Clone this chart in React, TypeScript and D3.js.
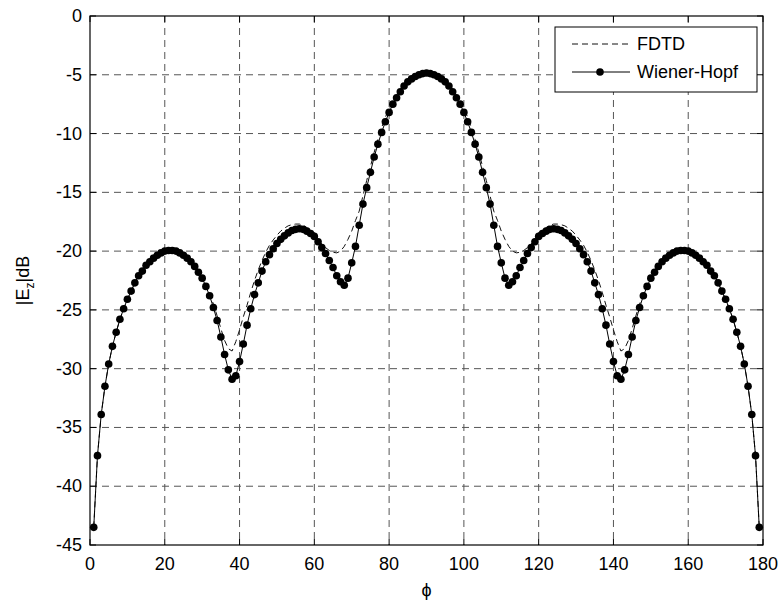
import React from "react";
import * as d3 from "d3";

// angle samples (degrees), one marker per degree
const phi = [
  1, 2, 3, 4, 5, 6, 7, 8, 9, 10, 11, 12, 13, 14, 15, 16, 17, 18, 19, 20,
  21, 22, 23, 24, 25, 26, 27, 28, 29, 30, 31, 32, 33, 34, 35, 36, 37, 38, 39, 40,
  41, 42, 43, 44, 45, 46, 47, 48, 49, 50, 51, 52, 53, 54, 55, 56, 57, 58, 59, 60,
  61, 62, 63, 64, 65, 66, 67, 68, 69, 70, 71, 72, 73, 74, 75, 76, 77, 78, 79, 80,
  81, 82, 83, 84, 85, 86, 87, 88, 89, 90, 91, 92, 93, 94, 95, 96, 97, 98, 99, 100,
  101, 102, 103, 104, 105, 106, 107, 108, 109, 110, 111, 112, 113, 114, 115, 116, 117, 118, 119, 120,
  121, 122, 123, 124, 125, 126, 127, 128, 129, 130, 131, 132, 133, 134, 135, 136, 137, 138, 139, 140,
  141, 142, 143, 144, 145, 146, 147, 148, 149, 150, 151, 152, 153, 154, 155, 156, 157, 158, 159, 160,
  161, 162, 163, 164, 165, 166, 167, 168, 169, 170, 171, 172, 173, 174, 175, 176, 177, 178, 179,
];

const wienerHopf = [
  -43.5, -37.4, -33.9, -31.5, -29.6, -28.1, -26.9, -25.8, -24.9, -24.1,
  -23.4, -22.7, -22.1, -21.7, -21.2, -20.9, -20.6, -20.35, -20.15, -20.0,
  -19.95, -19.95, -20.0, -20.15, -20.35, -20.6, -20.9, -21.3, -21.8, -22.3,
  -23.0, -23.8, -24.8, -25.9, -27.3, -28.8, -30.1, -30.9, -30.6, -29.4,
  -27.9, -26.3, -24.9, -23.7, -22.7, -21.7, -20.9, -20.3, -19.8, -19.35,
  -19.0, -18.7, -18.45, -18.25, -18.15, -18.1, -18.15, -18.3, -18.5, -18.75,
  -19.2, -19.7, -20.2, -20.8, -21.4, -22.1, -22.6, -22.9, -22.3, -21.0,
  -19.6, -17.8, -16.0, -14.6, -13.3, -12.0, -10.9, -9.9, -9.0, -8.2,
  -7.5, -6.95, -6.45, -5.95, -5.6, -5.35, -5.15, -5.0, -4.9, -4.85,
  -4.9, -5.0, -5.15, -5.35, -5.6, -5.95, -6.45, -6.95, -7.5, -8.2,
  -9.0, -9.9, -10.9, -12.0, -13.3, -14.6, -16.0, -17.8, -19.6, -21.0,
  -22.3, -22.9, -22.6, -22.1, -21.4, -20.8, -20.2, -19.7, -19.2, -18.75,
  -18.5, -18.3, -18.15, -18.1, -18.15, -18.25, -18.45, -18.7, -19.0, -19.35,
  -19.8, -20.3, -20.9, -21.7, -22.7, -23.7, -24.9, -26.3, -27.9, -29.4,
  -30.6, -30.9, -30.1, -28.8, -27.3, -25.9, -24.8, -23.8, -23.0, -22.3,
  -21.8, -21.3, -20.9, -20.6, -20.35, -20.15, -20.0, -19.95, -19.95, -20.0,
  -20.15, -20.35, -20.6, -20.9, -21.2, -21.7, -22.1, -22.7, -23.4, -24.1,
  -24.9, -25.8, -26.9, -28.1, -29.6, -31.5, -33.9, -37.4, -43.5,
];

const fdtd = [
  -43.5, -37.4, -33.9, -31.5, -29.6, -28.1, -26.9, -25.8, -24.9, -24.1,
  -23.4, -22.7, -22.1, -21.7, -21.2, -20.9, -20.6, -20.35, -20.15, -20.0,
  -19.95, -19.95, -20.0, -20.15, -20.35, -20.6, -20.9, -21.3, -21.8, -22.3,
  -22.9, -23.6, -24.5, -25.5, -26.6, -27.6, -28.3, -28.5, -27.7, -26.7,
  -25.6, -24.6, -23.5, -22.5, -21.6, -20.8, -20.1, -19.5, -19.05, -18.65,
  -18.3, -18.05, -17.85, -17.75, -17.7, -17.7, -17.8, -18.0, -18.3, -18.65,
  -19.05, -19.4, -19.7, -19.95, -20.1, -20.15, -20.0, -19.6, -19.0, -18.3,
  -17.4, -16.6, -15.3, -14.0, -12.8, -11.6, -10.5, -9.5, -8.6, -7.9,
  -7.3, -6.75, -6.3, -5.85, -5.5, -5.25, -5.05, -4.95, -4.85, -4.8,
  -4.85, -4.95, -5.05, -5.25, -5.5, -5.85, -6.3, -6.75, -7.3, -7.9,
  -8.6, -9.5, -10.5, -11.6, -12.8, -14.0, -15.3, -16.6, -17.4, -18.3,
  -19.0, -19.6, -20.0, -20.15, -20.1, -19.95, -19.7, -19.4, -19.05, -18.65,
  -18.3, -18.0, -17.8, -17.7, -17.7, -17.75, -17.85, -18.05, -18.3, -18.65,
  -19.05, -19.5, -20.1, -20.8, -21.6, -22.5, -23.5, -24.6, -25.6, -26.7,
  -27.7, -28.5, -28.3, -27.6, -26.6, -25.5, -24.5, -23.6, -22.9, -22.3,
  -21.8, -21.3, -20.9, -20.6, -20.35, -20.15, -20.0, -19.95, -19.95, -20.0,
  -20.15, -20.35, -20.6, -20.9, -21.2, -21.7, -22.1, -22.7, -23.4, -24.1,
  -24.9, -25.8, -26.9, -28.1, -29.6, -31.5, -33.9, -37.4, -43.5,
];

const xTicks = [0, 20, 40, 60, 80, 100, 120, 140, 160, 180];
const yTicks = [0, -5, -10, -15, -20, -25, -30, -35, -40, -45];

const width = 783;
const height = 605;
const plot = { left: 90, right: 763, top: 16, bottom: 545 };
const font = "Liberation Sans, Arial, Helvetica, sans-serif";

export default function App() {
  const x = d3.scaleLinear().domain([0, 180]).range([plot.left, plot.right]);
  const y = d3.scaleLinear().domain([-45, 0]).range([plot.bottom, plot.top]);

  const line = d3
    .line<number>()
    .x((d, i) => x(phi[i]))
    .y((d) => y(d));

  const tickLen = 6;

  return (
    <div style={{ position: "absolute", left: 0, top: 0 }}>
      <svg width={width} height={height} style={{ display: "block" }}>
        <rect width={width} height={height} fill="#fff" />

        {/* grid */}
        <g stroke="#555" strokeWidth={1} strokeDasharray="7,5">
          {xTicks.slice(1, -1).map((t) => (
            <line key={"gx" + t} x1={x(t)} x2={x(t)} y1={plot.top} y2={plot.bottom} />
          ))}
          {yTicks.slice(1, -1).map((t) => (
            <line key={"gy" + t} x1={plot.left} x2={plot.right} y1={y(t)} y2={y(t)} />
          ))}
        </g>

        {/* ticks inside the box */}
        <g stroke="#000" strokeWidth={1}>
          {xTicks.map((t) => (
            <g key={"tx" + t}>
              <line x1={x(t)} x2={x(t)} y1={plot.bottom} y2={plot.bottom - tickLen} />
              <line x1={x(t)} x2={x(t)} y1={plot.top} y2={plot.top + tickLen} />
            </g>
          ))}
          {yTicks.map((t) => (
            <g key={"ty" + t}>
              <line x1={plot.left} x2={plot.left + tickLen} y1={y(t)} y2={y(t)} />
              <line x1={plot.right} x2={plot.right - tickLen} y1={y(t)} y2={y(t)} />
            </g>
          ))}
        </g>

        {/* FDTD */}
        <path
          d={line(fdtd) || ""}
          fill="none"
          stroke="#111"
          strokeWidth={1}
          strokeDasharray="6,4"
        />

        {/* Wiener-Hopf */}
        <path d={line(wienerHopf) || ""} fill="none" stroke="#000" strokeWidth={1} />
        {wienerHopf.map((v, i) => (
          <circle key={"m" + i} cx={x(phi[i])} cy={y(v)} r={3.8} fill="#000" />
        ))}

        {/* box */}
        <rect
          x={plot.left}
          y={plot.top}
          width={plot.right - plot.left}
          height={plot.bottom - plot.top}
          fill="none"
          stroke="#000"
          strokeWidth={1.2}
        />

        {/* tick labels */}
        <g fontFamily={font} fontSize={18} fill="#000">
          {xTicks.map((t) => (
            <text key={"lx" + t} x={x(t)} y={plot.bottom + 25} textAnchor="middle">
              {t}
            </text>
          ))}
          {yTicks.map((t) => (
            <text key={"ly" + t} x={plot.left - 8} y={y(t) + 6} textAnchor="end">
              {t}
            </text>
          ))}
        </g>

        {/* axis labels */}
        <text
          x={(plot.left + plot.right) / 2}
          y={596}
          textAnchor="middle"
          fontFamily={font}
          fontSize={18}
        >
          ϕ
        </text>
        <text
          transform={`translate(29,${(plot.top + plot.bottom) / 2}) rotate(-90)`}
          textAnchor="middle"
          fontFamily={font}
          fontSize={18}
        >
          |E<tspan fontSize={12} dy={5}>z</tspan>
          <tspan dy={-5}>|dB</tspan>
        </text>

        {/* legend */}
        <g fontFamily={font} fontSize={18}>
          <rect x={555} y={27} width={202} height={65} fill="#fff" stroke="#000" strokeWidth={1} />
          <line x1={572} x2={630} y1={44} y2={44} stroke="#111" strokeDasharray="6,4" />
          <text x={637} y={50}>FDTD</text>
          <line x1={572} x2={630} y1={72} y2={72} stroke="#000" />
          <circle cx={600} cy={72} r={3.8} fill="#000" />
          <text x={637} y={78}>Wiener-Hopf</text>
        </g>
      </svg>
    </div>
  );
}
